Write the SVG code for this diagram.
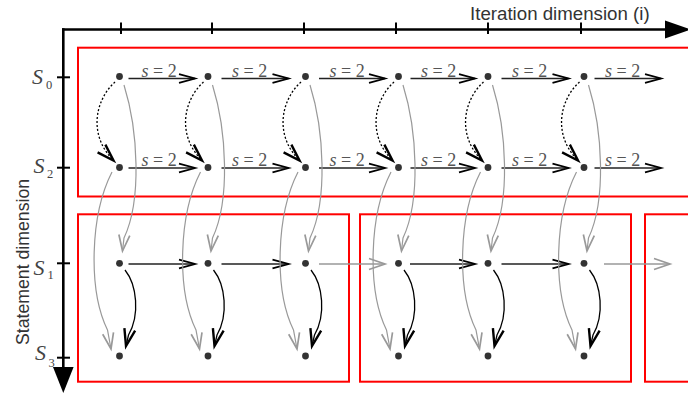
<svg xmlns="http://www.w3.org/2000/svg" width="688" height="394" viewBox="0 0 688 394">
<style>
.axis{stroke:#000;stroke-width:2.6;fill:none}
.tick{stroke:#000;stroke-width:2;fill:none}
.box{stroke:#ff0000;stroke-width:2;fill:none}
.node{fill:#333}
.dep{stroke:#222;stroke-width:1.4;fill:none;marker-end:url(#mBlack)}
.depg{stroke:#999;stroke-width:1.4;fill:none;marker-end:url(#mGray)}
.dot{stroke:#000;stroke-width:1.3;stroke-dasharray:2 2;fill:none;marker-end:url(#mBold)}
.cg{stroke:#999;stroke-width:1.2;fill:none;marker-end:url(#mGray)}
.cb{stroke:#000;stroke-width:1.3;fill:none;marker-end:url(#mBold)}
.lbl{font-family:"Liberation Serif",serif;font-size:18px;fill:#555}
.sl{font-family:"Liberation Serif",serif;font-style:italic;font-size:22px;fill:#444}
.sub{font-family:"Liberation Serif",serif;font-size:12.5px;fill:#444}
.ax{font-family:"Liberation Sans",Arial,sans-serif;fill:#333}
</style>
<defs>
<marker id="mBlack" markerUnits="userSpaceOnUse" markerWidth="40" markerHeight="40" refX="0" refY="0" orient="auto" overflow="visible">
<path d="M-16,-4.3 L0,0 L-16,4.3" fill="none" stroke="#000" stroke-width="1.8"/>
</marker>
<marker id="mGray" markerUnits="userSpaceOnUse" markerWidth="40" markerHeight="40" refX="0" refY="0" orient="auto" overflow="visible">
<path d="M-16,-5.5 L0,0 L-16,5.5" fill="none" stroke="#999" stroke-width="1.7"/>
</marker>
<marker id="mBold" markerUnits="userSpaceOnUse" markerWidth="40" markerHeight="40" refX="0" refY="0" orient="auto" overflow="visible">
<path d="M-17,-5.5 L0,0 L-17,5.5" fill="none" stroke="#000" stroke-width="2.4"/>
</marker>
</defs>

<g id="axes">
<line class="axis" x1="62" y1="29.5" x2="668" y2="29.5"/>
<polygon points="665,20.5 665,38.5 691,29.5" fill="#000"/>
<line class="axis" x1="63.3" y1="28.2" x2="63.3" y2="369"/>
<polygon points="53,367 73.6,367 63.3,393" fill="#000"/>
<line class="tick" x1="121" y1="22.5" x2="121" y2="34"/>
<line class="tick" x1="212" y1="22.5" x2="212" y2="34"/>
<line class="tick" x1="304" y1="22.5" x2="304" y2="34"/>
<line class="tick" x1="396" y1="22.5" x2="396" y2="34"/>
<line class="tick" x1="488" y1="22.5" x2="488" y2="34"/>
<line class="tick" x1="581" y1="22.5" x2="581" y2="34"/>
<line class="tick" x1="57" y1="77.3" x2="70" y2="77.3"/>
<line class="tick" x1="57" y1="167.7" x2="70" y2="167.7"/>
<line class="tick" x1="57" y1="263.3" x2="70" y2="263.3"/>
<line class="tick" x1="57" y1="357.7" x2="70" y2="357.7"/>
<text class="ax" x="470" y="20" font-size="18.7">Iteration dimension (i)</text>
<text class="ax" x="28.5" y="262" font-size="17.7" text-anchor="middle" transform="rotate(-90 28.5 262)">Statement dimension</text>
<text class="sl" x="32" y="84">S</text><text class="sub" x="46" y="88.5">0</text>
<text class="sl" x="33.5" y="173">S</text><text class="sub" x="47" y="177.5">2</text>
<text class="sl" x="33.5" y="275">S</text><text class="sub" x="47.5" y="279">1</text>
<text class="sl" x="35" y="360">S</text><text class="sub" x="48.5" y="366.5">3</text>
</g>

<g id="regions">
<g id="region-top"><rect class="box" x="78" y="47.7" width="630" height="148.8"/></g>
<g id="region-1"><rect class="box" x="78" y="214.3" width="271" height="167.4"/></g>
<g id="region-2"><rect class="box" x="360" y="214.3" width="271" height="167.4"/></g>
<g id="region-3"><rect class="box" x="645" y="214.3" width="60" height="167.4"/></g>
</g>

<g id="connectors">
<path class="dep" d="M128.5,78.5 H195"/>
<path class="dep" d="M221.5,78.5 H288.5"/>
<path class="dep" d="M319,78.5 H385"/>
<path class="dep" d="M410.5,78.5 H475"/>
<path class="dep" d="M501.5,78.5 H568.5"/>
<path class="dep" d="M594.5,78.5 H661"/>
<path class="dep" d="M128.5,168 H195"/>
<path class="dep" d="M221.5,168 H288.5"/>
<path class="dep" d="M319,168 H385"/>
<path class="dep" d="M410.5,168 H475"/>
<path class="dep" d="M501.5,168 H568.5"/>
<path class="dep" d="M594.5,168 H661"/>
<path class="dep" d="M128.5,264 H195"/>
<path class="dep" d="M221.5,264 H288.5"/>
<path class="depg" d="M319,264 H385"/>
<path class="dep" d="M410,264 H475"/>
<path class="dep" d="M501.5,264 H568.5"/>
<path class="depg" d="M604,264 H670"/>

<path class="dot" d="M115,82 C95,100 88,135 113.5,160.5"/>
<path class="cg" d="M124,85 C138,130 142,200 124,238 L122.5,251"/>
<path class="cg" d="M112,172 C90,215 88,290 107.5,330 L111,349"/>
<path class="cb" d="M125,270 C137,285 140,315 128.5,335 L126,346"/>

<path class="dot" d="M203.5,82 C183.5,100 176.5,135 202,160.5"/>
<path class="cg" d="M212.5,85 C226.5,130 230.5,200 212.5,238 L211,251"/>
<path class="cg" d="M200.5,172 C178.5,215 176.5,290 196,330 L199.5,349"/>
<path class="cb" d="M213.5,270 C225.5,285 228.5,315 217,335 L214.5,346"/>

<path class="dot" d="M301,82 C281,100 274,135 299.5,160.5"/>
<path class="cg" d="M310,85 C324,130 328,200 310,238 L308.5,251"/>
<path class="cg" d="M298,172 C276,215 274,290 293.5,330 L297,349"/>
<path class="cb" d="M311,270 C323,285 326,315 314.5,335 L312,346"/>

<path class="dot" d="M394,82 C374,100 367,135 392.5,160.5"/>
<path class="cg" d="M403,85 C417,130 421,200 403,238 L401.5,251"/>
<path class="cg" d="M391,172 C369,215 367,290 386.5,330 L390,349"/>
<path class="cb" d="M404,270 C416,285 419,315 407.5,335 L405,346"/>

<path class="dot" d="M483.5,82 C463.5,100 456.5,135 482,160.5"/>
<path class="cg" d="M492.5,85 C506.5,130 510.5,200 492.5,238 L491,251"/>
<path class="cg" d="M480.5,172 C458.5,215 456.5,290 476,330 L479.5,349"/>
<path class="cb" d="M493.5,270 C505.5,285 508.5,315 497,335 L494.5,346"/>

<path class="dot" d="M579.5,82 C559.5,100 552.5,135 578,160.5"/>
<path class="cg" d="M588.5,85 C602.5,130 606.5,200 588.5,238 L587,251"/>
<path class="cg" d="M576.5,172 C554.5,215 552.5,290 572,330 L575.5,349"/>
<path class="cb" d="M589.5,270 C601.5,285 604.5,315 593,335 L590.5,346"/>

<text class="lbl" x="141.5" y="76.7"><tspan font-style="italic">s</tspan> = 2</text>
<text class="lbl" x="232" y="76.7"><tspan font-style="italic">s</tspan> = 2</text>
<text class="lbl" x="329.5" y="76.7"><tspan font-style="italic">s</tspan> = 2</text>
<text class="lbl" x="421" y="76.7"><tspan font-style="italic">s</tspan> = 2</text>
<text class="lbl" x="512" y="76.7"><tspan font-style="italic">s</tspan> = 2</text>
<text class="lbl" x="605" y="76.7"><tspan font-style="italic">s</tspan> = 2</text>
<text class="lbl" x="141.5" y="166.3"><tspan font-style="italic">s</tspan> = 2</text>
<text class="lbl" x="232" y="166.3"><tspan font-style="italic">s</tspan> = 2</text>
<text class="lbl" x="329.5" y="166.3"><tspan font-style="italic">s</tspan> = 2</text>
<text class="lbl" x="421" y="166.3"><tspan font-style="italic">s</tspan> = 2</text>
<text class="lbl" x="512" y="166.3"><tspan font-style="italic">s</tspan> = 2</text>
<text class="lbl" x="605" y="166.3"><tspan font-style="italic">s</tspan> = 2</text>
</g>

<g id="nodes">
<g id="n-S0-1"><circle class="node" cx="119.5" cy="76.5" r="3.4"/></g>
<g id="n-S0-2"><circle class="node" cx="208" cy="76.5" r="3.4"/></g>
<g id="n-S0-3"><circle class="node" cx="305.5" cy="76.5" r="3.4"/></g>
<g id="n-S0-4"><circle class="node" cx="398.5" cy="76.5" r="3.4"/></g>
<g id="n-S0-5"><circle class="node" cx="488" cy="76.5" r="3.4"/></g>
<g id="n-S0-6"><circle class="node" cx="584" cy="76.5" r="3.4"/></g>
<g id="n-S2-1"><circle class="node" cx="119.5" cy="167.5" r="3.4"/></g>
<g id="n-S2-2"><circle class="node" cx="208" cy="167.5" r="3.4"/></g>
<g id="n-S2-3"><circle class="node" cx="305.5" cy="167.5" r="3.4"/></g>
<g id="n-S2-4"><circle class="node" cx="398.5" cy="167.5" r="3.4"/></g>
<g id="n-S2-5"><circle class="node" cx="488" cy="167.5" r="3.4"/></g>
<g id="n-S2-6"><circle class="node" cx="584" cy="167.5" r="3.4"/></g>
<g id="n-S1-1"><circle class="node" cx="119.5" cy="263.3" r="3.4"/></g>
<g id="n-S1-2"><circle class="node" cx="208" cy="263.3" r="3.4"/></g>
<g id="n-S1-3"><circle class="node" cx="305.5" cy="263.3" r="3.4"/></g>
<g id="n-S1-4"><circle class="node" cx="398.5" cy="263.3" r="3.4"/></g>
<g id="n-S1-5"><circle class="node" cx="488" cy="263.3" r="3.4"/></g>
<g id="n-S1-6"><circle class="node" cx="584" cy="263.3" r="3.4"/></g>
<g id="n-S3-1"><circle class="node" cx="119.5" cy="356" r="3.4"/></g>
<g id="n-S3-2"><circle class="node" cx="208" cy="356" r="3.4"/></g>
<g id="n-S3-3"><circle class="node" cx="305.5" cy="356" r="3.4"/></g>
<g id="n-S3-4"><circle class="node" cx="398.5" cy="356" r="3.4"/></g>
<g id="n-S3-5"><circle class="node" cx="488" cy="356" r="3.4"/></g>
<g id="n-S3-6"><circle class="node" cx="584" cy="356" r="3.4"/></g>
</g>
</svg>
